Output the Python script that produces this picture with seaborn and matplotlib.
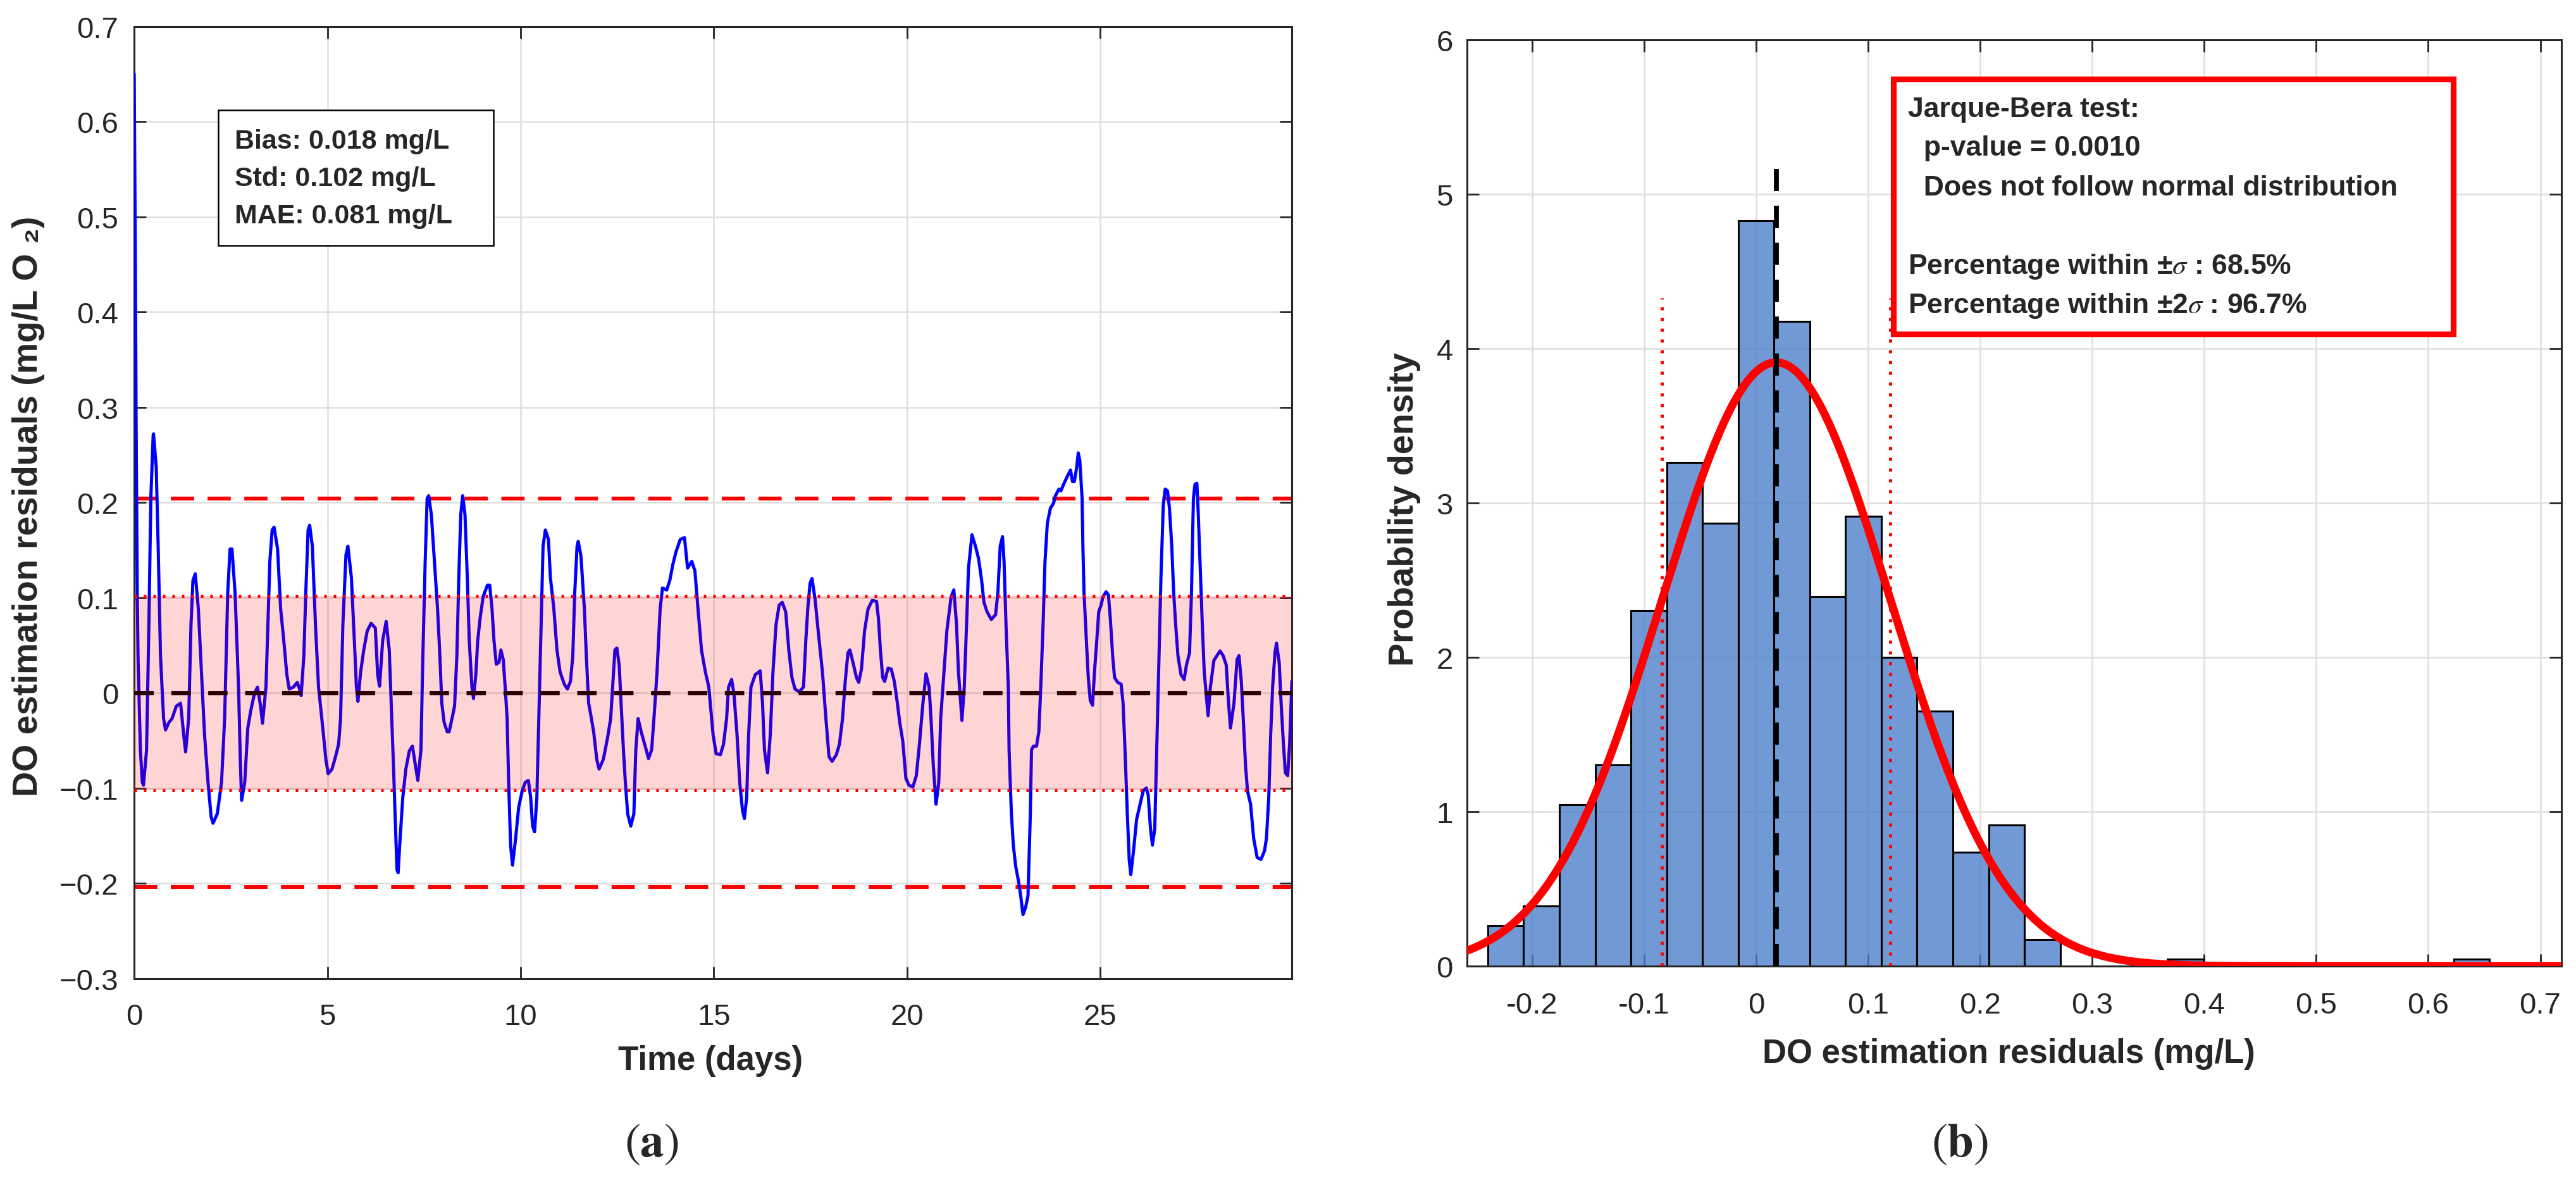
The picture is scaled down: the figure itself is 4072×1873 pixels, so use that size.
import numpy as np
import pandas as pd
import seaborn as sns
import matplotlib.pyplot as plt
from matplotlib.patches import Rectangle
from matplotlib.ticker import FuncFormatter

# residual time series, panel (a)
time_days = [
    0.00, 0.03, 0.05, 0.08, 0.10, 0.16, 0.21, 0.24, 0.32, 0.38, 0.43, 0.49, 0.50, 0.57, 0.62, 0.68,
    0.76, 0.81, 0.90, 0.98, 1.09, 1.20, 1.28, 1.33, 1.41, 1.47, 1.52, 1.58, 1.66, 1.74, 1.82, 1.91,
    1.99, 2.04, 2.15, 2.26, 2.34, 2.42, 2.48, 2.53, 2.61, 2.70, 2.75, 2.78, 2.86, 2.94, 3.02, 3.11,
    3.19, 3.27, 3.32, 3.41, 3.46, 3.51, 3.57, 3.62, 3.71, 3.79, 3.87, 3.95, 4.01, 4.12, 4.22, 4.28,
    4.32, 4.39, 4.44, 4.50, 4.54, 4.61, 4.69, 4.77, 4.88, 4.96, 5.02, 5.12, 5.21, 5.29, 5.34, 5.40,
    5.48, 5.53, 5.62, 5.70, 5.75, 5.79, 5.86, 5.94, 6.03, 6.13, 6.24, 6.30, 6.35, 6.43, 6.52, 6.60,
    6.65, 6.71, 6.75, 6.80, 6.83, 6.87, 6.95, 7.03, 7.12, 7.20, 7.28, 7.34, 7.42, 7.47, 7.53, 7.58,
    7.62, 7.69, 7.77, 7.85, 7.91, 7.96, 8.02, 8.10, 8.15, 8.24, 8.29, 8.35, 8.40, 8.45, 8.50, 8.56,
    8.62, 8.67, 8.74, 8.78, 8.84, 8.89, 8.95, 9.03, 9.14, 9.20, 9.26, 9.31, 9.37, 9.44, 9.49, 9.55,
    9.60, 9.65, 9.69, 9.74, 9.79, 9.87, 9.95, 10.04, 10.12, 10.20, 10.26, 10.31, 10.36, 10.42, 10.47, 10.53,
    10.58, 10.64, 10.72, 10.77, 10.86, 10.94, 11.02, 11.13, 11.21, 11.29, 11.35, 11.40, 11.46, 11.49, 11.56, 11.65,
    11.70, 11.76, 11.81, 11.89, 11.97, 12.03, 12.14, 12.25, 12.33, 12.38, 12.44, 12.49, 12.55, 12.60, 12.66, 12.71,
    12.77, 12.85, 12.93, 12.98, 13.04, 13.12, 13.23, 13.31, 13.39, 13.45, 13.53, 13.61, 13.67, 13.78, 13.86, 13.94,
    14.02, 14.13, 14.24, 14.32, 14.43, 14.51, 14.59, 14.68, 14.78, 14.87, 14.98, 15.06, 15.17, 15.25, 15.33, 15.38,
    15.46, 15.52, 15.60, 15.67, 15.74, 15.79, 15.85, 15.90, 15.96, 16.07, 16.20, 16.26, 16.31, 16.39, 16.46, 16.53,
    16.61, 16.69, 16.77, 16.86, 16.94, 17.02, 17.10, 17.21, 17.32, 17.38, 17.43, 17.49, 17.54, 17.62, 17.70, 17.81,
    17.90, 17.98, 18.06, 18.17, 18.25, 18.33, 18.40, 18.47, 18.52, 18.60, 18.69, 18.75, 18.82, 18.90, 18.99, 19.10,
    19.21, 19.26, 19.31, 19.37, 19.42, 19.51, 19.59, 19.67, 19.75, 19.81, 19.89, 19.97, 20.05, 20.15, 20.24, 20.32,
    20.41, 20.49, 20.57, 20.62, 20.68, 20.75, 20.82, 20.87, 20.95, 21.03, 21.14, 21.21, 21.28, 21.33, 21.42, 21.48,
    21.54, 21.59, 21.68, 21.77, 21.85, 21.93, 21.99, 22.07, 22.18, 22.29, 22.35, 22.41, 22.47, 22.51, 22.56, 22.62,
    22.64, 22.70, 22.75, 22.81, 22.89, 22.94, 23.00, 23.07, 23.13, 23.19, 23.22, 23.27, 23.35, 23.41, 23.46, 23.52,
    23.57, 23.63, 23.71, 23.79, 23.84, 23.93, 23.98, 24.03, 24.12, 24.23, 24.28, 24.33, 24.39, 24.43, 24.47, 24.53,
    24.55, 24.58, 24.64, 24.69, 24.74, 24.80, 24.85, 24.91, 24.96, 25.02, 25.07, 25.15, 25.21, 25.26, 25.32, 25.37,
    25.45, 25.54, 25.59, 25.64, 25.70, 25.75, 25.79, 25.86, 25.94, 26.03, 26.11, 26.19, 26.24, 26.30, 26.35, 26.41,
    26.46, 26.52, 26.57, 26.63, 26.68, 26.74, 26.79, 26.85, 26.90, 26.95, 27.01, 27.09, 27.17, 27.23, 27.31, 27.36,
    27.41, 27.45, 27.50, 27.53, 27.58, 27.64, 27.69, 27.79, 27.85, 27.94, 28.02, 28.10, 28.18, 28.26, 28.32, 28.37,
    28.46, 28.54, 28.59, 28.65, 28.70, 28.76, 28.81, 28.89, 28.97, 29.06, 29.16, 29.25, 29.30, 29.36, 29.41, 29.46,
    29.52, 29.56, 29.63, 29.68, 29.74, 29.79, 29.85, 29.90, 29.958,
]
residuals = [
    0.650, 0.450, 0.280, 0.100, 0.035, -0.060, -0.094, -0.097, -0.060, 0.072, 0.204, 0.270, 0.272, 0.237, 0.154, 0.039,
    -0.027, -0.039, -0.031, -0.027, -0.014, -0.011, -0.044, -0.062, -0.027, 0.072, 0.118, 0.125, 0.088, 0.022, -0.044, -0.094,
    -0.130, -0.137, -0.127, -0.094, -0.027, 0.105, 0.151, 0.151, 0.105, 0.006, -0.077, -0.113, -0.094, -0.037, -0.018, -0.001,
    0.006, -0.014, -0.032, 0.006, 0.072, 0.138, 0.171, 0.174, 0.151, 0.088, 0.055, 0.019, 0.004, 0.006, 0.011, 0.004,
    -0.003, 0.039, 0.105, 0.171, 0.176, 0.154, 0.072, 0.006, -0.037, -0.070, -0.085, -0.080, -0.067, -0.054, -0.027, 0.072,
    0.145, 0.154, 0.121, 0.052, 0.006, -0.009, 0.022, 0.045, 0.065, 0.073, 0.068, 0.019, 0.007, 0.055, 0.075, 0.045,
    -0.011, -0.077, -0.127, -0.186, -0.189, -0.160, -0.110, -0.080, -0.061, -0.056, -0.077, -0.092, -0.060, 0.039, 0.138, 0.204,
    0.207, 0.187, 0.138, 0.088, 0.039, -0.011, -0.031, -0.041, -0.041, -0.024, -0.014, 0.039, 0.121, 0.187, 0.207, 0.187,
    0.121, 0.055, 0.006, -0.006, 0.019, 0.055, 0.078, 0.101, 0.113, 0.113, 0.088, 0.055, 0.030, 0.032, 0.045, 0.035,
    0.006, -0.027, -0.094, -0.160, -0.181, -0.153, -0.120, -0.103, -0.094, -0.092, -0.110, -0.140, -0.146, -0.110, -0.027, 0.072,
    0.154, 0.171, 0.161, 0.121, 0.088, 0.045, 0.022, 0.009, 0.004, 0.012, 0.039, 0.105, 0.154, 0.159, 0.144, 0.088,
    0.039, -0.011, -0.022, -0.041, -0.070, -0.080, -0.070, -0.047, -0.027, 0.006, 0.045, 0.047, 0.029, -0.011, -0.060, -0.094,
    -0.127, -0.140, -0.127, -0.060, -0.027, -0.041, -0.057, -0.069, -0.060, -0.027, 0.022, 0.088, 0.110, 0.108, 0.118, 0.135,
    0.148, 0.161, 0.163, 0.131, 0.138, 0.128, 0.088, 0.045, 0.022, 0.006, -0.044, -0.064, -0.065, -0.054, -0.027, 0.006,
    0.014, -0.001, -0.044, -0.094, -0.123, -0.132, -0.110, -0.044, 0.006, 0.019, 0.023, -0.011, -0.060, -0.084, -0.044, 0.022,
    0.072, 0.092, 0.095, 0.085, 0.045, 0.016, 0.004, 0.001, 0.006, 0.055, 0.088, 0.115, 0.120, 0.098, 0.065, 0.022,
    -0.027, -0.067, -0.072, -0.065, -0.054, -0.027, 0.012, 0.042, 0.045, 0.032, 0.016, 0.011, 0.025, 0.065, 0.088, 0.097,
    0.096, 0.078, 0.045, 0.016, 0.012, 0.026, 0.025, 0.012, -0.011, -0.031, -0.051, -0.090, -0.097, -0.099, -0.087, -0.054,
    -0.011, 0.020, 0.006, -0.027, -0.077, -0.117, -0.094, -0.027, 0.019, 0.065, 0.101, 0.108, 0.072, 0.022, -0.029, 0.006,
    0.072, 0.131, 0.166, 0.154, 0.141, 0.118, 0.095, 0.085, 0.077, 0.082, 0.105, 0.154, 0.164, 0.138, 0.072, 0.006,
    -0.060, -0.127, -0.160, -0.182, -0.199, -0.213, -0.233, -0.225, -0.213, -0.127, -0.060, -0.056, -0.056, -0.041, 0.006, 0.072,
    0.138, 0.178, 0.194, 0.199, 0.207, 0.214, 0.212, 0.217, 0.225, 0.234, 0.222, 0.222, 0.237, 0.252, 0.244, 0.204,
    0.154, 0.105, 0.055, 0.016, -0.008, -0.013, 0.022, 0.055, 0.085, 0.092, 0.101, 0.106, 0.103, 0.078, 0.039, 0.016,
    0.011, 0.009, -0.011, -0.060, -0.127, -0.176, -0.191, -0.166, -0.133, -0.117, -0.103, -0.100, -0.107, -0.143, -0.160, -0.143,
    -0.060, 0.039, 0.121, 0.197, 0.214, 0.212, 0.194, 0.154, 0.105, 0.072, 0.039, 0.019, 0.014, 0.029, 0.042, 0.105,
    0.204, 0.219, 0.220, 0.194, 0.138, 0.072, 0.022, -0.024, 0.006, 0.034, 0.039, 0.044, 0.039, 0.029, -0.011, -0.037,
    -0.011, 0.035, 0.039, 0.012, -0.027, -0.077, -0.103, -0.117, -0.153, -0.173, -0.175, -0.166, -0.153, -0.110, -0.044, 0.006,
    0.042, 0.052, 0.032, -0.011, -0.054, -0.084, -0.087, -0.054, 0.012,
]

# statistics written on the chart
bias = 0.018
std = 0.102
mae = 0.081
jb_pvalue = 0.0010
pct_1sigma = 68.5
pct_2sigma = 96.7

# histogram, panel (b): 28 equal bins from min to max residual
hist_lo, hist_hi = -0.2394, 0.6546
hist_counts = [6, 9, 24, 30, 53, 75, 66, 111, 96, 55, 67, 46, 38, 17,
               21, 4, 0, 0, 0, 1, 0, 0, 0, 0, 0, 0, 0, 1]

sns.set_theme(style='white')
plt.rcParams['font.family'] = ['Liberation Sans', 'DejaVu Sans']
plt.rcParams['mathtext.fontset'] = 'stix'

fig = plt.figure(figsize=(20.36, 9.37), dpi=200)
ax1 = fig.add_axes([0.0521, 0.1742, 0.4494, 0.8031])
ax2 = fig.add_axes([0.5695, 0.1846, 0.4249, 0.7812])


def style_axes(ax):
    ax.grid(True, color='#dedede', lw=0.9)
    ax.set_axisbelow(True)
    ax.tick_params(direction='in', length=7, width=1.0, bottom=True, left=True,
                   top=True, right=True, colors='#262626', labelsize=17)
    for sp in ax.spines.values():
        sp.set_visible(True)
        sp.set_color('#262626')
        sp.set_linewidth(1.1)


# ---- (a) residual time series ----
tmax = time_days[-1]
ax1.axhline(2 * std, color='red', lw=2.2, ls=(0, (6, 3.5)), zorder=2)
ax1.axhline(-2 * std, color='red', lw=2.2, ls=(0, (6, 3.5)), zorder=2)
sns.lineplot(x=time_days, y=residuals, ax=ax1, color='blue', lw=1.8,
             estimator=None, sort=False, zorder=3)
ax1.axhline(0, color='black', lw=2.5, ls=(0, (4.4, 4)), zorder=3.5)
ax1.fill_between([0, tmax], -std, std, color='red', alpha=0.17, lw=0, zorder=4)
ax1.axhline(std, color='red', lw=1.8, ls=(0, (0.8, 2.2)), zorder=5)
ax1.axhline(-std, color='red', lw=1.8, ls=(0, (0.8, 2.2)), zorder=5)

style_axes(ax1)
ax1.set_xlim(0, tmax)
ax1.set_ylim(-0.3, 0.7)
ax1.set_xticks([0, 5, 10, 15, 20, 25])
ax1.set_yticks(np.round(np.arange(-0.3, 0.71, 0.1), 1))
ax1.xaxis.set_major_formatter(FuncFormatter(lambda v, p: f'{v + 0:g}'))
ax1.yaxis.set_major_formatter(FuncFormatter(lambda v, p: f'{v + 0:g}'.replace('-', '\u2212')))
ax1.tick_params(axis='x', pad=14)
ax1.tick_params(axis='y', pad=9)

ax1.set_xlabel('Time (days)', fontsize=19, fontweight='bold', color='#262626')
ax1.xaxis.set_label_coords(0.498, -0.086)
ax1.xaxis.label.set_va('center')
ax1.set_ylabel('DO estimation residuals (mg/L O ₂)', fontsize=20, fontweight='bold', color='#262626')
ax1.yaxis.set_label_coords(-0.0913, 0.4967)
ax1.yaxis.label.set_va('center')

ax1.add_patch(Rectangle((0.0727, 0.770), 0.2377, 0.142, transform=ax1.transAxes,
                        facecolor='white', edgecolor='black', lw=0.9, zorder=6))
stat_lines = [f'Bias: {bias:.3f} mg/L', f'Std: {std:.3f} mg/L', f'MAE: {mae:.3f} mg/L']
for y, s in zip([0.8794, 0.840, 0.801], stat_lines):
    ax1.text(0.0869, y, s, transform=ax1.transAxes, fontsize=15.5, fontweight='bold',
             va='center', ha='left', zorder=7)

# ---- (b) residual histogram with normal fit ----
edges = np.linspace(hist_lo, hist_hi, len(hist_counts) + 1)
hist_df = pd.DataFrame({'residual': (edges[:-1] + edges[1:]) / 2, 'count': hist_counts})
sns.histplot(data=hist_df, x='residual', weights='count', bins=edges.tolist(), stat='density',
             ax=ax2, facecolor=(0.3, 0.5, 0.8, 0.8), edgecolor='black', linewidth=1.1, zorder=2)

xlo, xhi = -0.258, 0.719
xs = np.linspace(xlo, xhi, 500)
pdf = np.exp(-0.5 * ((xs - bias) / std) ** 2) / (std * np.sqrt(2 * np.pi))
ax2.plot([bias - std] * 2, [0, 4.33], color='red', lw=1.8, ls=(0, (1, 2.4)), zorder=3)
ax2.plot([bias + std] * 2, [0, 4.33], color='red', lw=1.8, ls=(0, (1, 2.4)), zorder=3)
sns.lineplot(x=xs, y=pdf, ax=ax2, color='red', lw=4.6, zorder=4)
ax2.plot([bias, bias], [0, 5.22], color='black', lw=2.8, ls=(0, (4.5, 3)), zorder=5)

style_axes(ax2)
ax2.set_xlim(xlo, xhi)
ax2.set_ylim(0, 6)
ax2.set_xticks(np.round(np.arange(-0.2, 0.71, 0.1), 1))
ax2.set_yticks([0, 1, 2, 3, 4, 5, 6])
ax2.xaxis.set_major_formatter(FuncFormatter(lambda v, p: f'{v + 0:g}'))
ax2.tick_params(axis='x', pad=14.5)
ax2.tick_params(axis='y', pad=8)

ax2.set_xlabel('DO estimation residuals (mg/L)', fontsize=19, fontweight='bold', color='#262626')
ax2.xaxis.set_label_coords(0.4948, -0.0943)
ax2.xaxis.label.set_va('center')
ax2.set_ylabel('Probability density', fontsize=20, fontweight='bold', color='#262626')
ax2.yaxis.set_label_coords(-0.0572, 0.494)
ax2.yaxis.label.set_va('center')

ax2.add_patch(Rectangle((0.3896, 0.6824), 0.5116, 0.2753, transform=ax2.transAxes,
                        facecolor='white', edgecolor='red', lw=3.3, zorder=6))
jb_lines = ['Jarque-Bera test:',
            f'  p-value = {jb_pvalue:.4f}',
            '  Does not follow normal distribution',
            f'Percentage within \u00b1$\\sigma$ : {pct_1sigma:.1f}%',
            f'Percentage within \u00b12$\\sigma$ : {pct_2sigma:.1f}%']
for y, s in zip([0.9255, 0.8839, 0.8408, 0.7561, 0.7138], jb_lines):
    ax2.text(0.4029, y, s, transform=ax2.transAxes, fontsize=16, fontweight='bold',
             va='center', ha='left', zorder=7)

fig.text(0.253, 0.035, r'$(\mathbf{a})$', ha='center', va='center', fontsize=27)
fig.text(0.7608, 0.035, r'$(\mathbf{b})$', ha='center', va='center', fontsize=27)

fig.savefig('out.png', dpi=200)
